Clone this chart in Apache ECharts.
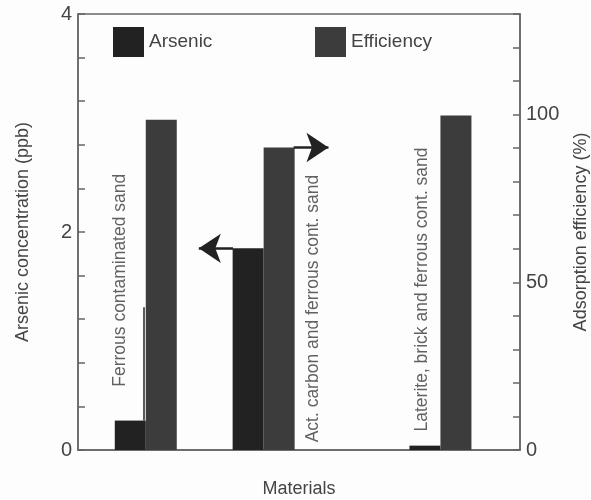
<!DOCTYPE html>
<html>
<head>
<meta charset="utf-8">
<script src="https://cdn.jsdelivr.net/npm/echarts@6/dist/echarts.min.js"></script>
<style>
  html, body { margin: 0; padding: 0; background: #fdfdfd; }
  #chart { width: 591px; height: 500px; }
</style>
</head>
<body>
<div id="chart"></div>
<script>
// Data
var materials = ['Ferrous contaminated sand', 'Act. carbon and ferrous cont. sand', 'Laterite, brick and ferrous cont. sand'];
// where each material group sits along the (hidden) x axis
var materialX = [1.15, 3.15, 6.15];
var arsenic = [0.27, 1.85, 0.04];      // ppb
var efficiency = [98.5, 90.2, 99.7];   // %

// anchor of each rotated material label (x, arsenic ppb)
var labelX = [0.71, 3.99, 5.84];
var labelY = [0.58, 0.07, 0.17];

var textColor = '#444';
var axisColor = '#666';
var font = 'Liberation Sans';

var chart = echarts.init(document.getElementById('chart'));

function pairs(xs, ys) {
  var out = [];
  for (var i = 0; i < xs.length; i++) out.push([xs[i], ys[i]]);
  return out;
}

var labelData = [];
for (var i = 0; i < materials.length; i++) {
  labelData.push({ value: [labelX[i], labelY[i]], name: materials[i] });
}

var arrowLine = {
  silent: true, symbol: ['none', 'arrow'], symbolSize: [22, 22],
  label: { show: false },
  lineStyle: { color: '#222', width: 2.5, type: 'solid', opacity: 1 },
  emphasis: { disabled: true }
};

var option = {
  backgroundColor: '#fdfdfd',
  animation: false,
  textStyle: { fontFamily: font },
  legend: [
    {
      data: ['Arsenic'], left: 113, top: 27, padding: 0,
      itemWidth: 31, itemHeight: 30, icon: 'rect',
      textStyle: { fontSize: 19, color: textColor, fontFamily: font }
    },
    {
      data: ['Efficiency'], left: 315, top: 27, padding: 0,
      itemWidth: 31, itemHeight: 30, icon: 'rect',
      textStyle: { fontSize: 19, color: textColor, fontFamily: font }
    }
  ],
  grid: {
    left: 78, right: 71, top: 14, bottom: 50,
    outerBoundsMode: 'none',
    show: true, borderColor: axisColor, borderWidth: 1.5
  },
  xAxis: {
    type: 'value', min: 0, max: 7.5,
    name: 'Materials', nameLocation: 'middle', nameGap: 30,
    nameTextStyle: { fontSize: 18, color: textColor },
    axisLine: { show: true, lineStyle: { color: axisColor, width: 1.5 } },
    axisTick: { show: false },
    axisLabel: { show: false },
    splitLine: { show: false }
  },
  yAxis: [
    {
      type: 'value', min: 0, max: 4, interval: 0.4,
      name: 'Arsenic concentration (ppb)', nameLocation: 'middle', nameGap: 46,
      nameTextStyle: { fontSize: 18, color: textColor },
      axisLine: { show: true, lineStyle: { color: axisColor, width: 1.5 } },
      axisTick: { inside: true, length: 7, lineStyle: { color: axisColor, width: 1.5 } },
      axisLabel: {
        fontSize: 20, color: textColor, margin: 6,
        formatter: function (v) {
          return Math.abs(v - Math.round(v / 2) * 2) < 1e-6 ? String(Math.round(v)) : '';
        }
      },
      splitLine: { show: false }
    },
    {
      type: 'value', min: 0, max: 130, interval: 10,
      name: 'Adsorption efficiency (%)', nameLocation: 'middle', nameGap: 52,
      nameTextStyle: { fontSize: 18, color: textColor },
      axisLine: { show: true, lineStyle: { color: axisColor, width: 1.5 } },
      axisTick: { inside: true, length: 7, lineStyle: { color: axisColor, width: 1.5 } },
      axisLabel: {
        fontSize: 20, color: textColor, margin: 6,
        formatter: function (v) { return v % 50 === 0 ? String(v) : ''; }
      },
      splitLine: { show: false }
    }
  ],
  series: [
    {
      name: 'Arsenic', type: 'bar', yAxisIndex: 0,
      barWidth: 31, barGap: 0,
      itemStyle: { color: '#222' },
      data: pairs(materialX, arsenic)
    },
    {
      name: 'Efficiency', type: 'bar', yAxisIndex: 1,
      barWidth: 31, barGap: 0,
      itemStyle: { color: '#3c3c3c' },
      data: pairs(materialX, efficiency)
    },
    {
      // material names and the pointers drawn on the arsenic scale
      name: 'labels', type: 'scatter', yAxisIndex: 0,
      symbolSize: 1, itemStyle: { color: 'rgba(0,0,0,0)' },
      silent: true, z: 5,
      label: {
        show: true, position: 'inside', rotate: 90,
        align: 'left', verticalAlign: 'middle',
        fontSize: 17.5, color: '#3a3a3a',
        formatter: '{b}'
      },
      data: labelData,
      markLine: Object.assign({}, arrowLine, {
        data: [
          [{ coord: [2.63, arsenic[1]] }, { coord: [2.05, arsenic[1]] }],
          [{ coord: [1.12, arsenic[0]], symbol: 'none' }, { coord: [1.12, 1.31], symbol: 'none', lineStyle: { width: 1.5 } }]
        ]
      })
    },
    {
      // pointer drawn on the efficiency scale
      name: 'effNotes', type: 'scatter', yAxisIndex: 1,
      silent: true, z: 5,
      data: [],
      markLine: Object.assign({}, arrowLine, {
        data: [
          [{ coord: [3.66, efficiency[1]] }, { coord: [4.25, efficiency[1]] }]
        ]
      })
    }
  ]
};

chart.setOption(option);
</script>
</body>
</html>
